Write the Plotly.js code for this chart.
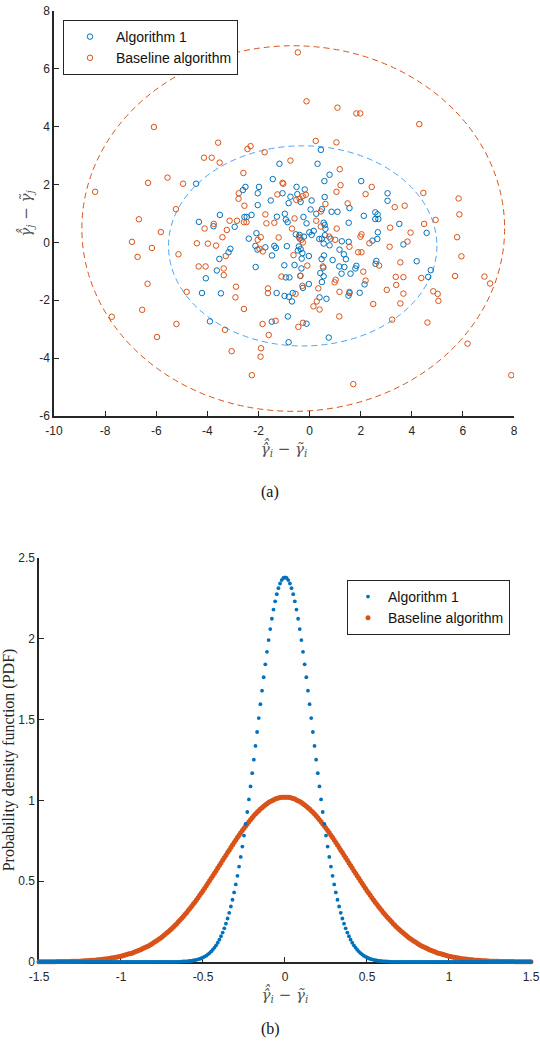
<!DOCTYPE html>
<html>
<head>
<meta charset="utf-8">
<script src="https://cdn.plot.ly/plotly-3.0.1.min.js"></script>
<style>html,body{margin:0;padding:0;background:#fff;}#chart{width:540px;height:1052px;}</style>
</head>
<body>
<div id="chart"></div>
<script>
// ---------- (a) scatter data ----------
const algX = [0.44,0.31,-1.18,0.78,0.58,2.02,-4.44,-1.44,-2.51,-1.98,-2.61,-0.51,-0.19,-2.03,-1.06,-0.48,3.05,-0.75,0.59,-1.52,0.08,3.05,-0.82,-0.35,-2.03,1.56,0.48,0.04,0.86,1.09,-0.97,0.26,2.57,2.66,-3.51,-2.55,-2.46,-2.27,-1.28,-0.24,2.12,2.69,2.57,-0.93,-0.86,-0.12,0.55,0.59,1.53,3.51,-4.33,-3.76,-2.93,0.62,0.16,-0.01,0.08,-0.54,-0.39,-0.22,2.67,4.58,-2.08,0.60,-2.38,0.38,0.48,-0.39,0.82,1.26,1.53,2.46,2.65,0.55,0.78,-2.12,-2.04,-1.73,-1.38,-1.32,-0.89,-0.42,-0.35,-0.46,3.67,-3.10,-3.17,1.17,-0.28,1.34,-0.03,0.56,-1.47,-3.53,-0.31,0.47,1.42,0.90,4.19,2.61,2.58,-0.59,-0.99,-2.11,1.16,1.36,1.83,1.79,-0.32,0.54,4.74,-3.63,0.42,1.25,1.60,-0.36,4.64,-0.93,-0.79,-4.06,0.55,0.48,-0.03,2.15,-0.26,-4.21,-3.47,-1.29,-0.66,1.56,1.52,1.96,-0.98,-0.81,0.39,0.66,-0.69,-0.85,-3.90,-1.48,-0.12,0.75,-0.82];
const algY = [3.20,2.72,2.72,2.34,2.12,2.12,2.03,2.19,1.92,1.92,1.81,1.92,1.83,1.70,1.70,1.67,1.70,1.58,1.57,1.45,1.45,1.44,1.36,1.40,1.29,1.19,1.15,1.14,1.06,1.06,0.99,0.99,1.04,0.97,0.95,0.88,0.88,0.95,0.89,0.88,0.92,0.81,0.81,0.79,0.70,0.66,0.68,0.60,0.68,0.64,0.71,0.56,0.54,0.47,0.40,0.35,0.26,0.28,0.26,0.20,0.35,0.33,0.32,0.25,0.13,0.12,0.13,0.14,0.13,0.04,0.02,0.06,0.12,-0.04,-0.10,-0.12,-0.25,-0.17,-0.12,-0.19,-0.13,-0.14,-0.23,-0.28,-0.07,-0.22,-0.34,-0.25,-0.37,-0.41,-0.47,-0.45,-0.45,-0.57,-0.56,-0.58,-0.58,-0.61,-0.65,-0.64,-0.74,-0.78,-0.79,-0.85,-0.83,-0.85,-0.81,-0.90,-0.90,-0.87,-0.96,-0.97,-1.06,-1.08,-1.08,-1.15,-1.19,-1.21,-1.21,-1.24,-1.17,-1.37,-1.44,-1.45,-1.57,-1.75,-1.76,-1.75,-1.75,-1.75,-1.84,-1.74,-1.85,-1.88,-1.90,-1.95,-2.04,-2.56,-2.73,-2.74,-2.81,-3.29,-3.45];
const baseX = [-0.46,-0.12,1.09,1.83,1.98,4.29,-6.09,0.24,1.05,-3.58,-2.43,-2.31,-1.76,-4.13,-3.83,-3.52,-0.75,1.18,-2.59,-5.56,-6.32,-4.95,-1.06,-1.03,1.21,2.43,-8.39,1.05,4.45,2.19,-2.77,-1.26,-2.78,5.83,-0.27,-0.15,-0.39,-0.52,1.49,0.62,-5.23,3.72,3.33,-2.55,5.86,0.44,-6.68,4.93,-3.75,-3.13,-2.84,-2.47,-2.57,-1.73,-1.69,-1.38,-0.59,0.26,0.44,4.48,3.15,-4.11,-5.82,-3.24,-0.69,1.06,3.95,2.03,1.99,5.77,-3.41,-1.91,-2.03,-1.21,-0.42,-0.32,-0.26,0.77,1.00,-6.95,-4.41,-3.98,3.83,2.34,-3.66,3.13,-6.17,1.56,-5.13,-3.28,-6.73,5.94,-0.63,1.90,2.03,-1.83,-1.96,3.55,-4.34,-4.07,-0.09,2.72,0.52,-3.36,2.10,-3.36,-1.10,-0.36,3.37,3.67,4.37,5.69,6.84,1.02,0.98,2.19,7.06,-6.34,3.39,-2.88,-0.28,-1.63,0.34,3.02,-1.63,-4.81,1.17,1.56,3.67,4.84,5.01,-0.55,-2.90,0.28,5.04,3.55,2.49,0.15,0.39,-6.55,-2.57,-7.74,1.16,3.23,-1.33,4.61,-1.84,-0.26,-5.21,-0.44,-3.31,-1.60,-5.97,6.18,-3.05,-1.90,-1.92,-2.26,7.89,1.71];
const baseY = [6.57,4.88,4.66,4.46,4.46,4.09,3.99,3.51,3.46,3.45,3.23,3.33,3.12,2.93,2.93,2.76,2.83,2.53,2.40,2.24,2.06,2.03,2.06,2.03,1.98,1.92,1.75,1.75,1.71,1.67,1.70,1.66,1.51,1.52,1.60,1.65,1.51,1.47,1.35,1.33,1.15,1.27,1.22,1.27,0.97,1.07,0.80,0.78,0.64,0.75,0.75,0.70,0.70,0.97,0.66,0.68,0.83,0.75,0.55,0.64,0.51,0.48,0.36,0.43,0.48,0.48,0.34,0.28,0.20,0.18,0.18,0.18,0.09,0.17,0.20,0.09,0.00,0.20,0.09,0.02,-0.03,-0.04,0.03,-0.03,-0.11,-0.15,-0.19,-0.15,-0.41,-0.47,-0.50,-0.48,-0.44,-0.34,-0.34,-0.31,-0.22,-0.69,-0.83,-0.83,-0.80,-0.80,-0.83,-0.90,-1.01,-1.13,-1.18,-1.16,-1.19,-1.20,-1.23,-1.16,-1.18,-1.29,-1.38,-1.32,-1.42,-1.43,-1.47,-1.53,-1.50,-1.59,-1.59,-1.64,-1.75,-1.71,-1.71,-1.71,-1.77,-1.69,-1.78,-1.78,-1.90,-2.04,-2.02,-2.11,-2.13,-2.21,-2.32,-2.33,-2.30,-2.57,-2.56,-2.67,-2.71,-2.77,-2.82,-2.78,-2.82,-2.92,-3.02,-3.20,-3.27,-3.50,-3.76,-3.66,-3.95,-4.59,-4.59,-4.90];

// ellipses: [Algorithm 1, Baseline]
const ellCenterX = [-0.27, -0.64];
const ellCenterY = [-0.12, 0.48];
const ellSemiX = [5.25, 8.27];
const ellSemiY = [3.46, 6.32];

// ---------- (b) PDF data ----------
const pdfX = [
-1.5,-1.49,-1.48,-1.47,-1.46,-1.45,-1.44,-1.43,-1.42,-1.41,
-1.4,-1.39,-1.38,-1.37,-1.36,-1.35,-1.34,-1.33,-1.32,-1.31,
-1.3,-1.29,-1.28,-1.27,-1.26,-1.25,-1.24,-1.23,-1.22,-1.21,
-1.2,-1.19,-1.18,-1.17,-1.16,-1.15,-1.14,-1.13,-1.12,-1.11,
-1.1,-1.09,-1.08,-1.07,-1.06,-1.05,-1.04,-1.03,-1.02,-1.01,
-1,-0.99,-0.98,-0.97,-0.96,-0.95,-0.94,-0.93,-0.92,-0.91,
-0.9,-0.89,-0.88,-0.87,-0.86,-0.85,-0.84,-0.83,-0.82,-0.81,
-0.8,-0.79,-0.78,-0.77,-0.76,-0.75,-0.74,-0.73,-0.72,-0.71,
-0.7,-0.69,-0.68,-0.67,-0.66,-0.65,-0.64,-0.63,-0.62,-0.61,
-0.6,-0.59,-0.58,-0.57,-0.56,-0.55,-0.54,-0.53,-0.52,-0.51,
-0.5,-0.49,-0.48,-0.47,-0.46,-0.45,-0.44,-0.43,-0.42,-0.41,
-0.4,-0.39,-0.38,-0.37,-0.36,-0.35,-0.34,-0.33,-0.32,-0.31,
-0.3,-0.29,-0.28,-0.27,-0.26,-0.25,-0.24,-0.23,-0.22,-0.21,
-0.2,-0.19,-0.18,-0.17,-0.16,-0.15,-0.14,-0.13,-0.12,-0.11,
-0.1,-0.09,-0.08,-0.07,-0.06,-0.05,-0.04,-0.03,-0.02,-0.01,
0,
0.01,0.02,0.03,0.04,0.05,0.06,0.07,0.08,0.09,0.1,
0.11,0.12,0.13,0.14,0.15,0.16,0.17,0.18,0.19,0.2,
0.21,0.22,0.23,0.24,0.25,0.26,0.27,0.28,0.29,0.3,
0.31,0.32,0.33,0.34,0.35,0.36,0.37,0.38,0.39,0.4,
0.41,0.42,0.43,0.44,0.45,0.46,0.47,0.48,0.49,0.5,
0.51,0.52,0.53,0.54,0.55,0.56,0.57,0.58,0.59,0.6,
0.61,0.62,0.63,0.64,0.65,0.66,0.67,0.68,0.69,0.7,
0.71,0.72,0.73,0.74,0.75,0.76,0.77,0.78,0.79,0.8,
0.81,0.82,0.83,0.84,0.85,0.86,0.87,0.88,0.89,0.9,
0.91,0.92,0.93,0.94,0.95,0.96,0.97,0.98,0.99,1,
1.01,1.02,1.03,1.04,1.05,1.06,1.07,1.08,1.09,1.1,
1.11,1.12,1.13,1.14,1.15,1.16,1.17,1.18,1.19,1.2,
1.21,1.22,1.23,1.24,1.25,1.26,1.27,1.28,1.29,1.3,
1.31,1.32,1.33,1.34,1.35,1.36,1.37,1.38,1.39,1.4,
1.41,1.42,1.43,1.44,1.45,1.46,1.47,1.48,1.49,1.5];
const pdfAlg = [
0,0,0,0,0,0,0,0,0,0,
0,0,0,0,0,0,0,0,0,0,
0,0,0,0,0,0,0,0,0,0,
0,0,0,0,0,0,0,0,0,0,
0,0,0,0,0,0,0,0,0,0,
0,0,0,0,0,0,0,0,0,0,
0,0,0,0,0,0,0,0,0,0,
0,0,0,0,0,0,0,0,0,0,
0,0,0.001,0.001,0.001,0.001,0.002,0.002,0.003,0.003,
0.004,0.005,0.006,0.007,0.009,0.011,0.013,0.016,0.019,0.023,
0.028,0.033,0.039,0.047,0.055,0.065,0.076,0.089,0.103,0.119,
0.138,0.159,0.182,0.208,0.237,0.269,0.304,0.343,0.385,0.430,
0.480,0.533,0.590,0.650,0.714,0.782,0.854,0.928,1.006,1.086,
1.168,1.252,1.337,1.423,1.509,1.595,1.679,1.762,1.842,1.919,
1.992,2.060,2.124,2.181,2.232,2.276,2.313,2.342,2.363,2.376,
2.380,
2.376,2.363,2.342,2.313,2.276,2.232,2.181,2.124,2.060,1.992,
1.919,1.842,1.762,1.679,1.595,1.509,1.423,1.337,1.252,1.168,
1.086,1.006,0.928,0.854,0.782,0.714,0.650,0.590,0.533,0.480,
0.430,0.385,0.343,0.304,0.269,0.237,0.208,0.182,0.159,0.138,
0.119,0.103,0.089,0.076,0.065,0.055,0.047,0.039,0.033,0.028,
0.023,0.019,0.016,0.013,0.011,0.009,0.007,0.006,0.005,0.004,
0.003,0.003,0.002,0.002,0.001,0.001,0.001,0.001,0,0,
0,0,0,0,0,0,0,0,0,0,
0,0,0,0,0,0,0,0,0,0,
0,0,0,0,0,0,0,0,0,0,
0,0,0,0,0,0,0,0,0,0,
0,0,0,0,0,0,0,0,0,0,
0,0,0,0,0,0,0,0,0,0,
0,0,0,0,0,0,0,0,0,0,
0,0,0,0,0,0,0,0,0,0];
const pdfBase = [
0.001,0.001,0.001,0.001,0.001,0.001,0.001,0.001,0.001,0.001,
0.001,0.002,0.002,0.002,0.002,0.002,0.002,0.003,0.003,0.003,
0.004,0.004,0.004,0.005,0.005,0.005,0.006,0.006,0.007,0.008,
0.008,0.009,0.010,0.010,0.011,0.012,0.013,0.014,0.015,0.016,
0.018,0.019,0.020,0.022,0.024,0.025,0.027,0.029,0.031,0.033,
0.036,0.038,0.041,0.044,0.047,0.050,0.053,0.056,0.060,0.064,
0.068,0.072,0.076,0.081,0.086,0.091,0.096,0.101,0.107,0.113,
0.120,0.126,0.133,0.140,0.147,0.155,0.163,0.171,0.180,0.188,
0.198,0.207,0.217,0.227,0.237,0.248,0.259,0.270,0.281,0.293,
0.305,0.318,0.331,0.343,0.357,0.370,0.384,0.398,0.412,0.427,
0.441,0.456,0.471,0.487,0.502,0.518,0.533,0.549,0.565,0.581,
0.597,0.613,0.629,0.645,0.661,0.677,0.692,0.708,0.724,0.739,
0.754,0.770,0.784,0.799,0.813,0.827,0.841,0.854,0.867,0.880,
0.892,0.904,0.915,0.926,0.936,0.946,0.955,0.964,0.972,0.979,
0.986,0.993,0.998,1.003,1.008,1.011,1.015,1.017,1.019,1.020,
1.020,
1.020,1.019,1.017,1.015,1.011,1.008,1.003,0.998,0.993,0.986,
0.979,0.972,0.964,0.955,0.946,0.936,0.926,0.915,0.904,0.892,
0.880,0.867,0.854,0.841,0.827,0.813,0.799,0.784,0.770,0.754,
0.739,0.724,0.708,0.692,0.677,0.661,0.645,0.629,0.613,0.597,
0.581,0.565,0.549,0.533,0.518,0.502,0.487,0.471,0.456,0.441,
0.427,0.412,0.398,0.384,0.370,0.357,0.343,0.331,0.318,0.305,
0.293,0.281,0.270,0.259,0.248,0.237,0.227,0.217,0.207,0.198,
0.188,0.180,0.171,0.163,0.155,0.147,0.140,0.133,0.126,0.120,
0.113,0.107,0.101,0.096,0.091,0.086,0.081,0.076,0.072,0.068,
0.064,0.060,0.056,0.053,0.050,0.047,0.044,0.041,0.038,0.036,
0.033,0.031,0.029,0.027,0.025,0.024,0.022,0.020,0.019,0.018,
0.016,0.015,0.014,0.013,0.012,0.011,0.010,0.010,0.009,0.008,
0.008,0.007,0.006,0.006,0.005,0.005,0.005,0.004,0.004,0.004,
0.003,0.003,0.003,0.002,0.002,0.002,0.002,0.002,0.002,0.001,
0.001,0.001,0.001,0.001,0.001,0.001,0.001,0.001,0.001,0.001];

// tick labels
const aXTicks = [-10,-8,-6,-4,-2,0,2,4,6,8];
const aXTickText = ['-10','-8','-6','-4','-2','0','2','4','6','8'];
const aYTicks = [-6,-4,-2,0,2,4,6,8];
const aYTickText = ['-6','-4','-2','0','2','4','6','8'];
const bXTicks = [-1.5,-1,-0.5,0,0.5,1,1.5];
const bXTickText = ['-1.5','-1','-0.5','0','0.5','1','1.5'];
const bYTicks = [0,0.5,1,1.5,2,2.5];
const bYTickText = ['0','0.5','1','1.5','2','2.5'];

const seriesNames = ['Algorithm 1','Baseline algorithm'];
const BLUE = '#0072BD', ORANGE = '#D95319', BLUE_ELL = '#4DA3F5';
const AX = '#262626';
const sans = 'Liberation Sans, Arial, sans-serif';
const serif = 'Liberation Serif, Times New Roman, serif';
const mathFont = 'DejaVu Serif, serif';

const traces = [
  {x: algX, y: algY, type:'scatter', mode:'markers', name: seriesNames[0], xaxis:'x', yaxis:'y', legend:'legend',
   marker:{symbol:'circle-open', size:5.5, color:BLUE, line:{width:1}}},
  {x: baseX, y: baseY, type:'scatter', mode:'markers', name: seriesNames[1], xaxis:'x', yaxis:'y', legend:'legend',
   marker:{symbol:'circle-open', size:5.5, color:ORANGE, line:{width:1}}},
  {x: pdfX, y: pdfBase, type:'scatter', mode:'markers', name: seriesNames[1], xaxis:'x2', yaxis:'y2', legend:'legend2', legendrank:2,
   cliponaxis:false, marker:{symbol:'circle', size:5, color:ORANGE}},
  {x: pdfX, y: pdfAlg, type:'scatter', mode:'markers', name: seriesNames[0], xaxis:'x2', yaxis:'y2', legend:'legend2', legendrank:1,
   cliponaxis:false, marker:{symbol:'circle', size:3.8, color:BLUE}}
];

const ellColors = [BLUE_ELL, ORANGE];
const shapes = ellCenterX.map((cx, i) => ({
  type:'circle', xref:'x', yref:'y', layer:'below',
  x0: cx - ellSemiX[i], x1: cx + ellSemiX[i],
  y0: ellCenterY[i] - ellSemiY[i], y1: ellCenterY[i] + ellSemiY[i],
  line:{color: ellColors[i], width:1, dash:'6px,4px'}
}));

const axisCommon = {showline:true, linecolor:AX, linewidth:1.6, mirror:false, ticks:'inside', ticklen:5, tickwidth:1, tickcolor:AX,
  showgrid:false, zeroline:false, tickfont:{family:sans, size:12, color:AX}, automargin:false, fixedrange:true, layer:'below traces'};

const gammaI = '<i>γ\u0302\u0302</i><sub><i>i</i></sub> − <i>γ\u0303</i><sub><i>i</i></sub>';
const gammaJ = '<i>γ\u0302\u0302</i><sub><i>j</i></sub> − <i>γ\u0303</i><sub><i>j</i></sub>';
const mathTitleFont = {family:mathFont, size:15, color:'#555'};

const layout = {
  width:540, height:1052, margin:{l:0, r:0, t:0, b:0},
  paper_bgcolor:'#ffffff', plot_bgcolor:'rgba(0,0,0,0)',
  showlegend:true,
  xaxis: Object.assign({}, axisCommon, {domain:[0.1, 0.952], range:[-10, 8], anchor:'y', tickmode:'array', tickvals:aXTicks, ticktext:aXTickText,
    ticklabelstandoff:3, title:{text:gammaI, font:mathTitleFont, standoff:6}}),
  yaxis: Object.assign({}, axisCommon, {domain:[0.6046, 0.9895], range:[-6, 8], anchor:'x', tickmode:'array', tickvals:aYTicks, ticktext:aYTickText,
    title:{text:gammaJ, font:mathTitleFont, standoff:4}}),
  xaxis2: Object.assign({}, axisCommon, {domain:[0.0722, 0.9833], range:[-1.5, 1.5], anchor:'y2', tickmode:'array', tickvals:bXTicks, ticktext:bXTickText,
    ticklabelstandoff:3, title:{text:gammaI, font:mathTitleFont, standoff:6}}),
  yaxis2: Object.assign({}, axisCommon, {domain:[0.0856, 0.4696], range:[0, 2.5], anchor:'x2', tickmode:'array', tickvals:bYTicks, ticktext:bYTickText,
    title:{text:'Probability density function (PDF)', font:{family:serif, size:16, color:AX}, standoff:4}}),
  legend:{x:63/540, y:1-20/1052, xanchor:'left', yanchor:'top', bgcolor:'#fff', bordercolor:AX, borderwidth:1,
    font:{family:sans, size:14, color:'#111'}, traceorder:'normal', itemwidth:42},
  legend2:{x:347/540, y:1-580/1052, xanchor:'left', yanchor:'top', bgcolor:'#fff', bordercolor:AX, borderwidth:1,
    font:{family:sans, size:14, color:'#111'}, traceorder:'normal', itemwidth:30},
  shapes: shapes,
  annotations:[
    {text:'(a)', xref:'paper', yref:'paper', x:270/540, y:1-492/1052, showarrow:false, font:{family:serif, size:16, color:'#111'}},
    {text:'(b)', xref:'paper', yref:'paper', x:270/540, y:1-1040/1052, showarrow:false, font:{family:serif, size:16, color:'#111'}}
  ]
};

Plotly.newPlot('chart', traces, layout, {staticPlot:true, displayModeBar:false});
</script>
</body>
</html>
